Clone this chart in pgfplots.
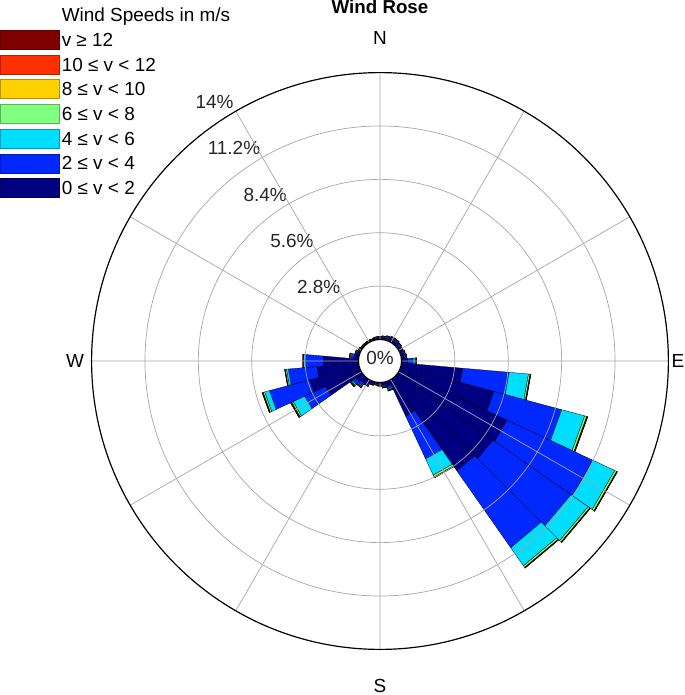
\documentclass[border=0pt]{standalone}
\usepackage{fontspec}
\setmainfont{Liberation Sans}
\usepackage{pgfplots}
\usepackage{pgfplotstable}
\pgfplotsset{compat=1.18}
\usepgfplotslibrary{polar}

\definecolor{bin1}{RGB}{0,0,128}
\definecolor{bin2}{RGB}{0,40,255}
\definecolor{bin3}{RGB}{0,222,255}
\definecolor{bin4}{RGB}{128,255,128}
\definecolor{bin5}{RGB}{255,208,0}
\definecolor{bin6}{RGB}{255,48,0}
\definecolor{bin7}{RGB}{128,0,0}

% cumulative frequency (%) per direction, c1 = 0-2 m/s ... c7 = all speeds
\pgfplotstableread{
dir c0 c1 c2 c3 c4 c5 c6 c7
0   0 0.08 0.12 0.13 0.14 0.15 0.155 0.16
10  0 0.10 0.15 0.17 0.18 0.19 0.195 0.20
20  0 0.12 0.19 0.22 0.23 0.24 0.245 0.25
30  0 0.15 0.24 0.27 0.28 0.29 0.295 0.30
40  0 0.15 0.24 0.27 0.28 0.29 0.295 0.30
50  0 0.12 0.20 0.23 0.24 0.25 0.255 0.26
60  0 0.10 0.16 0.18 0.19 0.20 0.205 0.21
70  0 0.12 0.20 0.23 0.24 0.25 0.255 0.26
80  0 0.15 0.24 0.27 0.28 0.29 0.295 0.30
90  0 0.35 0.62 0.72 0.76 0.78 0.79 0.80
100 0 3.23 5.67 6.69 6.77 6.80 6.81 6.82
110 0 5.06 8.74 9.99 10.10 10.13 10.15 10.16
120 0 6.22 11.20 12.46 12.57 12.60 12.61 12.62
130 0 6.11 11.10 12.20 12.30 12.33 12.34 12.35
140 0 5.90 10.83 11.99 12.09 12.12 12.13 12.14
150 0 2.07 4.54 5.48 5.59 5.62 5.63 5.64
160 0 0.25 0.38 0.44 0.47 0.49 0.50 0.51
170 0 0.15 0.23 0.26 0.28 0.29 0.295 0.30
180 0 0.10 0.15 0.17 0.18 0.19 0.195 0.20
190 0 0.08 0.12 0.13 0.14 0.15 0.155 0.16
200 0 0.10 0.15 0.17 0.18 0.19 0.195 0.20
210 0 0.18 0.28 0.31 0.33 0.34 0.345 0.35
220 0 0.30 0.47 0.53 0.56 0.58 0.59 0.60
230 0 0.40 0.62 0.70 0.74 0.77 0.79 0.80
240 0 2.02 3.23 3.90 3.98 4.02 4.04 4.06
250 0 2.70 4.88 5.14 5.22 5.25 5.27 5.28
260 0 2.20 3.70 3.80 3.86 3.88 3.89 3.90
270 0 1.86 2.81 2.89 2.91 2.92 2.93 2.94
280 0 0.25 0.40 0.45 0.47 0.49 0.495 0.50
290 0 0.12 0.19 0.22 0.23 0.24 0.245 0.25
300 0 0.08 0.12 0.13 0.14 0.15 0.155 0.16
310 0 0.05 0.08 0.09 0.10 0.105 0.108 0.11
320 0 0.05 0.08 0.09 0.10 0.105 0.108 0.11
330 0 0.05 0.08 0.09 0.10 0.105 0.108 0.11
340 0 0.05 0.08 0.09 0.10 0.105 0.108 0.11
350 0 0.08 0.12 0.13 0.14 0.15 0.155 0.16
}\wind

\newcommand\hole{1.128}% radius of the 0% circle, in %

\begin{document}
\begin{tikzpicture}[font=\fontsize{9.5}{11}\selectfont]
\path[use as bounding box] (-190bp,-167bp) rectangle (152.5bp,180.5bp);
\begin{polaraxis}[
    at={(0,0)}, anchor=center,
    width=288.4bp, height=288.4bp, scale only axis,
    xmin=0, xmax=360, ymin=0, ymax=15.128,
    xtick={0,30,...,330},
    ytick={3.928,6.728,9.528,12.328},
    xticklabels={}, yticklabels={},
    major tick length=0pt,
    grid=major,
    major grid style={black!35, line width=0.35pt},
    separate axis lines,
    x axis line style={black, line width=0.6pt},
    y axis line style={draw=none},
    axis on top,
    clip=false,
    legend style={at={(-0.1588,1.116)}, anchor=north west, draw=none, fill=none,
        inner sep=0pt, row sep=1.9bp,
        nodes={inner sep=0.8bp, text height=7bp, text depth=1.5bp},
        font=\fontsize{9.5}{11}\selectfont},
    legend cell align=left,
    legend image code/.code={\draw[#1, line width=0.4pt] (0bp,-4.3bp) rectangle (29.5bp,5.2bp);},
]
\pgfplotsforeachungrouped \i in {0,...,35}{%
  \pgfplotstablegetelem{\i}{dir}\of\wind
  \pgfmathsetmacro\aA{95-\pgfplotsretval}%
  \pgfmathsetmacro\aB{85-\pgfplotsretval}%
  \pgfplotsforeachungrouped \k in {1,...,7}{%
    \pgfmathtruncatemacro\km{\k-1}%
    \edef\getlo{\noexpand\pgfplotstablegetelem{\i}{c\km}\noexpand\of\noexpand\wind}\getlo
    \pgfmathsetmacro\rL{\pgfplotsretval+\hole}%
    \edef\gethi{\noexpand\pgfplotstablegetelem{\i}{c\k}\noexpand\of\noexpand\wind}\gethi
    \pgfmathsetmacro\rH{\pgfplotsretval+\hole}%
    \pgfmathtruncatemacro\ok{(\rH-\rL)>0.0005 ? 1 : 0}%
    \ifnum\ok=1
      \edef\temp{\noexpand\addplot[forget plot, fill=bin\k, draw=black, line width=0.15pt]
        coordinates {(\aA,\rL) (\aB,\rL) (\aB,\rH) (\aA,\rH)} -- cycle;}%
      \temp
    \fi
  }%
}
\addlegendimage{empty legend}\addlegendentry{Wind Speeds in m/s}
\addlegendimage{fill=bin7, draw=bin7!70!black}\addlegendentry{v ≥ 12}
\addlegendimage{fill=bin6, draw=bin6!70!black}\addlegendentry{10 ≤ v < 12}
\addlegendimage{fill=bin5, draw=bin5!70!black}\addlegendentry{8 ≤ v < 10}
\addlegendimage{fill=bin4, draw=bin4!70!black}\addlegendentry{6 ≤ v < 8}
\addlegendimage{fill=bin3, draw=bin3!70!black}\addlegendentry{4 ≤ v < 6}
\addlegendimage{fill=bin2, draw=bin2!70!black}\addlegendentry{2 ≤ v < 4}
\addlegendimage{fill=bin1, draw=bin1!70!black}\addlegendentry{0 ≤ v < 2}

\node[anchor=south east, inner sep=1bp, text=black!85] at (axis cs:120,{2.8+\hole}) {2.8\%};
\node[anchor=south east, inner sep=1bp, text=black!85] at (axis cs:120,{5.6+\hole}) {5.6\%};
\node[anchor=south east, inner sep=1bp, text=black!85] at (axis cs:120,{8.4+\hole}) {8.4\%};
\node[anchor=south east, inner sep=1bp, text=black!85] at (axis cs:120,{11.2+\hole}) {11.2\%};
\node[anchor=south east, inner sep=1bp, text=black!85] at (axis cs:120,{14+\hole}) {14\%};
\end{polaraxis}
\fill[white] (0,0) circle (10.75bp);
\draw[black, line width=0.55pt] (0,0) circle (10.75bp);
\node[text=black!85] at (0,1.5bp) {0\%};
\node at (0,161.5bp) {N};
\node at (149bp,0) {E};
\node at (0,-162.5bp) {S};
\node at (-152.5bp,0) {W};
\node[anchor=base, font=\fontsize{9.4}{11}\bfseries] at (0,173.5bp) {Wind Rose};
\end{tikzpicture}
\end{document}
